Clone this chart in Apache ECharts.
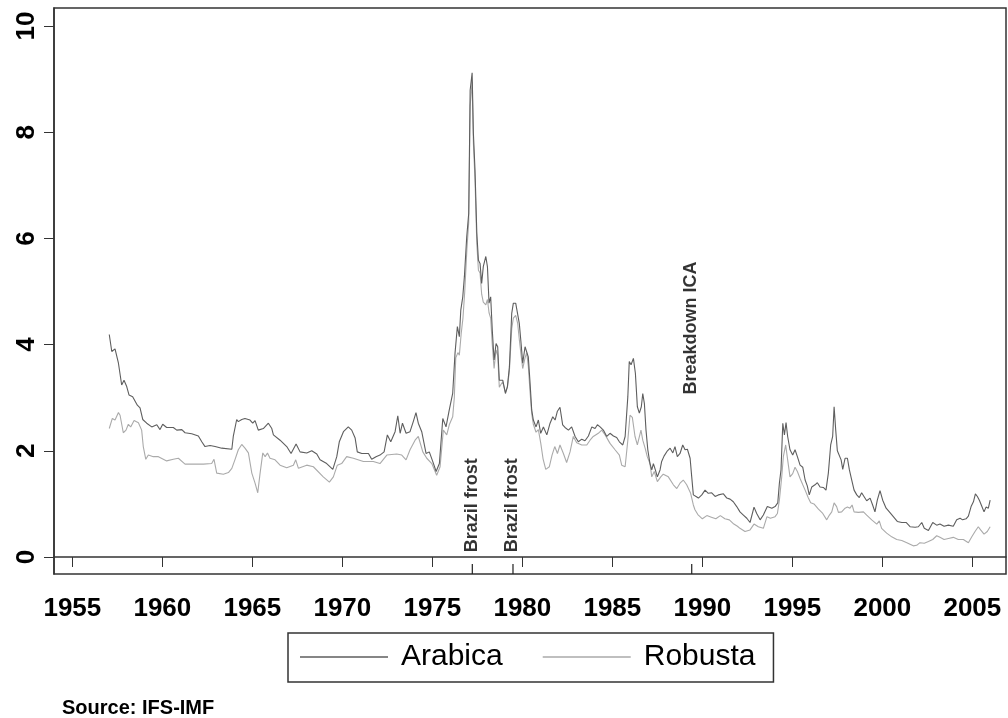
<!DOCTYPE html>
<html>
<head>
<meta charset="utf-8">
<script src="https://cdn.jsdelivr.net/npm/echarts@6/dist/echarts.min.js"></script>
<style>
  html, body { margin: 0; padding: 0; background: #fff; }
  #chart { width: 1008px; height: 718px; }
</style>
</head>
<body>
<div id="chart"></div>
<script>
// coffee prices, [year, price]
const arabica = [
  [1957.05,4.19],[1957.19,3.87],[1957.37,3.92],[1957.56,3.65],[1957.74,3.24],[1957.87,3.33],[1958.02,3.21],[1958.15,3.05],
  [1958.35,3.02],[1958.61,2.86],[1958.76,2.81],[1958.91,2.59],[1959.13,2.52],[1959.41,2.45],[1959.69,2.49],[1959.87,2.40],
  [1960.02,2.50],[1960.24,2.44],[1960.61,2.44],[1960.80,2.39],[1961.08,2.40],[1961.26,2.34],[1961.63,2.32],[1962.0,2.28],
  [1962.19,2.17],[1962.37,2.08],[1962.65,2.10],[1962.93,2.08],[1963.30,2.05],[1963.86,2.03],[1963.94,2.27],[1964.13,2.59],
  [1964.22,2.55],[1964.41,2.59],[1964.59,2.61],[1964.87,2.58],[1965.02,2.52],[1965.15,2.57],[1965.33,2.39],[1965.61,2.42],
  [1965.89,2.52],[1966.08,2.42],[1966.17,2.30],[1966.54,2.20],[1966.91,2.08],[1967.15,1.95],[1967.43,2.13],[1967.65,1.98],
  [1968.02,1.96],[1968.30,2.00],[1968.58,1.94],[1968.76,1.83],[1969.13,1.76],[1969.47,1.65],[1969.69,1.89],[1969.83,2.17],
  [1970.06,2.36],[1970.33,2.45],[1970.52,2.39],[1970.71,2.24],[1970.83,1.98],[1971.08,1.95],[1971.45,1.95],[1971.63,1.84],
  [1971.87,1.89],[1972.09,1.92],[1972.32,1.98],[1972.50,2.30],[1972.69,2.17],[1972.93,2.36],[1973.08,2.66],[1973.21,2.33],
  [1973.34,2.52],[1973.54,2.33],[1973.76,2.36],[1973.94,2.55],[1974.09,2.72],[1974.22,2.52],[1974.41,2.36],[1974.65,1.95],
  [1974.83,1.98],[1975.02,1.80],[1975.21,1.61],[1975.39,1.76],[1975.58,2.61],[1975.76,2.45],[1975.94,2.77],[1976.13,3.08],
  [1976.26,3.84],[1976.39,4.34],[1976.50,4.15],[1976.58,4.65],[1976.69,4.90],[1976.78,5.28],[1976.91,6.03],[1977.02,6.47],
  [1977.10,8.79],[1977.21,9.12],[1977.28,7.98],[1977.37,7.29],[1977.47,6.10],[1977.56,5.59],[1977.65,5.53],[1977.74,5.15],
  [1977.83,5.47],[1977.97,5.66],[1978.06,5.47],[1978.15,4.78],[1978.24,4.90],[1978.33,4.27],[1978.43,3.71],[1978.54,4.02],
  [1978.63,3.96],[1978.72,3.33],[1978.81,3.30],[1978.91,3.33],[1979.06,3.08],[1979.17,3.21],[1979.28,3.58],[1979.41,4.59],
  [1979.50,4.78],[1979.63,4.78],[1979.74,4.78],[1979.83,4.40],[1979.93,4.02],[1980.02,3.65],[1980.15,3.96],[1980.24,3.94],
  [1980.33,3.77],[1980.43,3.27],[1980.52,2.77],[1980.61,2.58],[1980.76,2.45],[1980.89,2.58],[1981.02,2.33],[1981.17,2.45],
  [1981.36,2.30],[1981.54,2.52],[1981.69,2.64],[1981.82,2.58],[1981.94,2.74],[1982.09,2.82],[1982.24,2.49],[1982.37,2.44],
  [1982.56,2.39],[1982.74,2.45],[1982.93,2.27],[1983.11,2.17],[1983.30,2.22],[1983.48,2.19],[1983.67,2.28],[1983.86,2.45],
  [1984.04,2.42],[1984.17,2.49],[1984.32,2.45],[1984.50,2.39],[1984.69,2.27],[1984.87,2.33],[1985.06,2.28],[1985.24,2.25],
  [1985.39,2.17],[1985.58,2.11],[1985.71,2.27],[1985.86,3.02],[1985.94,3.68],[1986.04,3.62],[1986.17,3.74],[1986.28,3.46],
  [1986.39,2.83],[1986.50,2.71],[1986.61,2.83],[1986.69,3.08],[1986.78,2.89],[1986.87,2.39],[1986.97,2.02],[1987.09,1.76],
  [1987.19,1.64],[1987.28,1.76],[1987.39,1.64],[1987.50,1.51],[1987.65,1.64],[1987.74,1.80],[1987.87,1.90],[1988.06,2.00],
  [1988.21,2.05],[1988.36,1.96],[1988.48,2.08],[1988.61,1.89],[1988.76,1.95],[1988.91,2.11],[1989.04,2.02],[1989.17,2.03],
  [1989.32,1.86],[1989.41,1.51],[1989.50,1.17],[1989.65,1.14],[1989.78,1.11],[1989.97,1.17],[1990.15,1.26],[1990.33,1.20],
  [1990.52,1.21],[1990.71,1.14],[1990.89,1.17],[1991.17,1.19],[1991.36,1.11],[1991.54,1.09],[1991.72,1.04],[1991.91,0.95],
  [1992.09,0.85],[1992.28,0.79],[1992.47,0.73],[1992.65,0.65],[1992.87,0.94],[1993.02,0.82],[1993.21,0.70],[1993.39,0.79],
  [1993.61,0.95],[1993.86,0.92],[1994.04,0.95],[1994.19,1.02],[1994.28,1.39],[1994.37,1.64],[1994.47,2.52],[1994.56,2.30],
  [1994.65,2.53],[1994.74,2.27],[1994.87,2.02],[1995.02,1.92],[1995.15,2.02],[1995.28,1.89],[1995.43,1.73],[1995.58,1.69],
  [1995.71,1.45],[1995.83,1.34],[1995.94,1.17],[1996.08,1.32],[1996.26,1.36],[1996.39,1.40],[1996.54,1.32],[1996.72,1.31],
  [1996.87,1.26],[1997.00,1.58],[1997.13,2.11],[1997.24,2.27],[1997.32,2.83],[1997.41,2.39],[1997.50,2.00],[1997.61,1.98],
  [1997.71,1.83],[1997.80,1.65],[1997.93,1.86],[1998.06,1.86],[1998.17,1.64],[1998.30,1.45],[1998.43,1.26],[1998.58,1.17],
  [1998.72,1.12],[1998.85,1.21],[1998.98,1.14],[1999.13,1.06],[1999.32,1.11],[1999.46,0.98],[1999.59,0.85],[1999.72,1.07],
  [1999.87,1.25],[2000.02,1.07],[2000.21,0.92],[2000.39,0.85],[2000.61,0.76],[2000.83,0.67],[2001.08,0.65],[2001.32,0.65],
  [2001.54,0.57],[2001.82,0.56],[2002.00,0.57],[2002.19,0.65],[2002.33,0.54],[2002.56,0.50],[2002.80,0.65],[2003.02,0.60],
  [2003.20,0.62],[2003.43,0.58],[2003.67,0.60],[2003.94,0.58],[2004.13,0.70],[2004.32,0.73],[2004.46,0.70],[2004.65,0.72],
  [2004.78,0.77],[2004.93,0.95],[2005.06,1.04],[2005.17,1.19],[2005.28,1.14],[2005.39,1.07],[2005.52,0.96],[2005.65,0.85],
  [2005.76,0.94],[2005.89,0.92],[2005.99,1.07]
];

const robusta = [
  [1957.05,2.42],[1957.22,2.61],[1957.37,2.58],[1957.56,2.72],[1957.65,2.67],[1957.83,2.34],[1957.98,2.39],[1958.11,2.50],
  [1958.24,2.45],[1958.43,2.57],[1958.67,2.53],[1958.85,2.39],[1958.94,2.08],[1959.08,1.84],[1959.22,1.92],[1959.50,1.89],
  [1959.78,1.89],[1960.24,1.81],[1960.61,1.84],[1960.89,1.86],[1961.26,1.75],[1961.72,1.75],[1962.28,1.75],[1962.74,1.76],
  [1962.87,1.84],[1963.02,1.58],[1963.39,1.56],[1963.67,1.59],[1963.86,1.67],[1964.04,1.84],[1964.22,2.02],[1964.41,2.12],
  [1964.59,2.05],[1964.78,1.96],[1964.97,1.58],[1965.15,1.39],[1965.30,1.21],[1965.43,1.58],[1965.58,1.96],[1965.71,1.89],
  [1965.84,1.96],[1965.98,1.86],[1966.26,1.83],[1966.54,1.73],[1966.91,1.68],[1967.28,1.73],[1967.41,1.83],[1967.56,1.67],
  [1968.02,1.73],[1968.39,1.70],[1968.94,1.51],[1969.28,1.41],[1969.50,1.51],[1969.72,1.73],[1969.96,1.76],[1970.24,1.89],
  [1970.61,1.86],[1971.17,1.80],[1971.72,1.80],[1972.09,1.76],[1972.47,1.92],[1973.02,1.94],[1973.30,1.92],[1973.54,1.83],
  [1973.76,2.02],[1974.04,2.20],[1974.22,2.27],[1974.47,1.98],[1974.69,1.86],[1974.97,1.76],[1975.24,1.54],[1975.43,1.70],
  [1975.61,2.39],[1975.80,2.30],[1975.94,2.49],[1976.13,2.64],[1976.22,3.00],[1976.30,3.75],[1976.42,3.85],[1976.50,3.80],
  [1976.60,4.20],[1976.70,4.50],[1976.80,5.00],[1976.92,5.80],[1977.02,6.30],[1977.10,8.50],[1977.21,8.95],[1977.28,7.80],
  [1977.37,7.10],[1977.47,5.90],[1977.56,5.40],[1977.65,5.35],[1977.74,4.95],[1977.83,4.80],[1977.97,4.75],[1978.06,4.85],
  [1978.15,4.60],[1978.24,4.50],[1978.33,4.00],[1978.43,3.55],[1978.54,3.90],[1978.63,3.80],[1978.72,3.20],[1978.81,3.25],
  [1978.91,3.30],[1979.06,3.10],[1979.17,3.20],[1979.28,3.50],[1979.41,4.30],[1979.50,4.50],[1979.63,4.55],[1979.74,4.40],
  [1979.83,4.10],[1979.93,3.80],[1980.02,3.55],[1980.15,3.75],[1980.24,3.85],[1980.33,3.60],[1980.43,3.10],[1980.52,2.70],
  [1980.61,2.50],[1980.76,2.35],[1980.89,2.40],[1981.02,2.15],[1981.15,1.85],[1981.30,1.65],[1981.50,1.70],[1981.65,1.92],
  [1981.80,2.08],[1981.95,1.95],[1982.09,2.11],[1982.28,1.95],[1982.46,1.78],[1982.65,1.98],[1982.83,2.27],[1983.02,2.15],
  [1983.30,2.11],[1983.58,2.11],[1983.76,2.20],[1983.94,2.27],[1984.22,2.33],[1984.41,2.39],[1984.60,2.30],[1984.87,2.14],
  [1985.15,2.02],[1985.39,1.92],[1985.52,1.73],[1985.71,1.70],[1985.86,2.20],[1985.98,2.67],[1986.11,2.63],[1986.26,2.27],
  [1986.39,2.11],[1986.50,2.12],[1986.59,2.39],[1986.69,2.20],[1986.82,2.05],[1986.94,1.89],[1987.09,1.76],[1987.19,1.51],
  [1987.33,1.61],[1987.50,1.42],[1987.69,1.51],[1987.83,1.56],[1988.11,1.51],[1988.39,1.36],[1988.58,1.29],[1988.76,1.39],
  [1988.94,1.45],[1989.13,1.36],[1989.35,1.20],[1989.50,0.98],[1989.59,0.89],[1989.75,0.80],[1990.00,0.72],[1990.25,0.78],
  [1990.50,0.75],[1990.75,0.72],[1991.00,0.78],[1991.25,0.72],[1991.50,0.70],[1991.75,0.62],[1991.95,0.58],[1992.09,0.54],
  [1992.37,0.48],[1992.65,0.51],[1992.87,0.62],[1993.11,0.57],[1993.39,0.54],[1993.59,0.76],[1993.78,0.73],[1994.04,0.76],
  [1994.17,0.82],[1994.28,1.07],[1994.41,1.51],[1994.50,1.89],[1994.63,2.11],[1994.74,1.83],[1994.87,1.51],[1995.02,1.57],
  [1995.15,1.69],[1995.28,1.61],[1995.43,1.48],[1995.58,1.36],[1995.71,1.26],[1995.89,1.11],[1996.02,1.02],[1996.20,1.00],
  [1996.45,0.90],[1996.69,0.82],[1996.91,0.70],[1997.06,0.79],[1997.19,0.85],[1997.32,1.02],[1997.46,0.95],[1997.56,0.84],
  [1997.74,0.85],[1997.93,0.92],[1998.06,0.94],[1998.20,0.92],[1998.32,0.98],[1998.43,0.85],[1998.67,0.84],[1998.95,0.85],
  [1999.13,0.79],[1999.41,0.70],[1999.69,0.62],[1999.83,0.68],[1999.96,0.54],[2000.24,0.45],[2000.52,0.38],[2000.80,0.33],
  [2001.08,0.31],[2001.36,0.27],[2001.54,0.24],[2001.72,0.21],[2001.91,0.22],[2002.09,0.27],[2002.33,0.26],[2002.56,0.29],
  [2002.80,0.33],[2003.02,0.40],[2003.20,0.37],[2003.43,0.33],[2003.67,0.35],[2003.94,0.37],[2004.22,0.33],[2004.50,0.33],
  [2004.78,0.27],[2004.97,0.38],[2005.15,0.48],[2005.33,0.57],[2005.46,0.51],[2005.65,0.43],[2005.83,0.48],[2005.99,0.57]
];

const xTicks = [1955, 1960, 1965, 1970, 1975, 1980, 1985, 1990, 1995, 2000, 2005];
const yTicks = [0, 2, 4, 6, 8, 10];

// events marked on the chart
const eventYears = [1977.22, 1979.48, 1989.41];
const eventLabels = ['Brazil frost', 'Brazil frost', 'Breakdown ICA'];
const eventLabelAt = [0.08, 0.08, 3.05];

const X_MIN = 1953.98, X_MAX = 2006.87;
const Y_MIN = -0.32, Y_MAX = 10.34;

const FONT = "'Liberation Sans', Arial, sans-serif";
const INK = '#333';

const chart = echarts.init(document.getElementById('chart'));

// short inward ticks at the bottom, one per event, broken apart by gaps
const eventTickData = eventYears.flatMap(y => [[y, Y_MIN], [y, Y_MIN + 0.19], [y, '-']]);

const option = {
  animation: false,
  backgroundColor: '#fff',
  textStyle: { fontFamily: FONT },
  grid: {
    left: 54, right: 2, top: 8, bottom: 144,
    show: true, borderColor: INK, borderWidth: 1.5
  },
  xAxis: {
    type: 'value',
    min: X_MIN, max: X_MAX,
    axisLine: { show: true, lineStyle: { color: INK, width: 1.5 } },
    axisTick: { show: true, customValues: xTicks, length: 10, lineStyle: { color: INK, width: 1 } },
    axisLabel: {
      customValues: xTicks, margin: 22,
      formatter: v => String(v),
      color: '#000', fontSize: 26, fontWeight: 'bold', fontFamily: FONT
    },
    splitLine: { show: false }
  },
  yAxis: {
    type: 'value',
    min: Y_MIN, max: Y_MAX,
    axisLine: { show: true, lineStyle: { color: INK, width: 1.5 } },
    axisTick: { show: true, customValues: yTicks, length: 10, lineStyle: { color: INK, width: 1 } },
    axisLabel: {
      customValues: yTicks, rotate: 90, margin: 14,
      color: '#000', fontSize: 26, fontWeight: 'bold', fontFamily: FONT
    },
    splitLine: { show: false }
  },
  legend: {
    data: ['Arabica', 'Robusta'],
    left: 288, top: 633,
    padding: [9, 18, 10, 12],
    borderColor: INK, borderWidth: 1.5,
    icon: 'rect',
    itemWidth: 88, itemHeight: 1.5, itemGap: 40,
    textStyle: { color: '#000', fontSize: 30, fontFamily: FONT, padding: [0, 0, 0, 8] }
  },
  graphic: [{
    type: 'text',
    left: 62, top: 698,
    style: { text: 'Source: IFS-IMF', fill: '#000', font: 'bold 20px ' + FONT }
  }],
  series: [{
    name: 'Arabica',
    type: 'line',
    data: arabica,
    symbol: 'none',
    lineStyle: { color: '#5e5e5e', width: 1.1 },
    itemStyle: { color: '#5e5e5e' },
    z: 3
  }, {
    name: 'Robusta',
    type: 'line',
    data: robusta,
    symbol: 'none',
    lineStyle: { color: '#aaaaaa', width: 1.1 },
    itemStyle: { color: '#aaaaaa' },
    z: 2
  }, {
    name: 'eventTicks',
    type: 'line',
    data: eventTickData,
    symbol: 'none',
    connectNulls: false,
    silent: true,
    clip: false,
    lineStyle: { color: '#222', width: 1.2 },
    z: 4
  }, {
    name: 'events',
    type: 'scatter',
    symbolSize: 1,
    itemStyle: { color: 'transparent' },
    data: eventYears.map((y, i) => ({ value: [y, eventLabelAt[i]], name: eventLabels[i] })),
    label: {
      show: true,
      formatter: p => p.name,
      position: [0, 0],
      rotate: 90,
      align: 'left',
      verticalAlign: 'middle',
      color: '#000',
      fontSize: 18,
      fontWeight: 'bold',
      fontFamily: FONT
    },
    z: 4
  }]
};

chart.setOption(option);
window.onresize = function () {
  chart.resize();
};
</script>
</body>
</html>
